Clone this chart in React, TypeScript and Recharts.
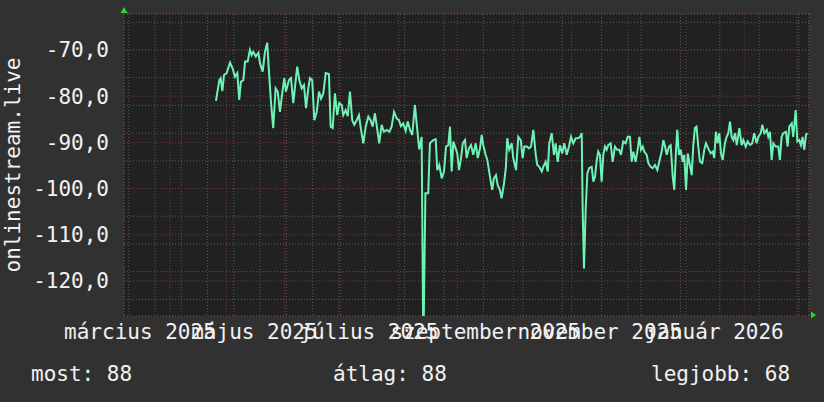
import React from 'react';
import { LineChart, Line, XAxis, YAxis, CartesianGrid, ReferenceDot } from 'recharts';

// days since 2025-04-01 (UTC) and values
const seriesDays = [
  24.5, 26.3, 27.0, 27.9, 28.8, 30.2, 32.0, 33.4, 34.6, 35.9, 36.9, 37.8, 39.1, 40.0, 41.4, 42.6, 43.5, 44.4, 45.7, 47.1,
  48.0, 49.4, 50.6, 51.8, 52.8, 53.8, 55.0, 56.3, 57.4, 58.6, 59.8, 60.9, 61.8, 63.4, 64.5, 65.7, 67.0, 67.8, 68.9, 70.2,
  71.4, 72.5, 73.7, 74.6, 75.8, 76.9, 78.2, 79.4, 80.5, 81.7, 83.0, 84.7, 85.6, 86.7, 87.9, 89.1, 90.2, 91.5, 92.3, 93.6,
  94.7, 95.9, 97.1, 98.2, 99.5, 100.7, 101.8, 103.0, 104.3, 105.7, 106.9, 108.0, 109.2, 110.5, 111.5, 112.8, 114.0, 115.5, 116.9, 118.1,
  119.4, 120.8, 122.0, 123.1, 124.3, 125.6, 126.7, 127.9, 129.1, 130.5, 131.6, 132.8, 134.1, 135.0, 136.1, 137.6, 138.5, 140.3, 141.6, 142.4,
  143.5, 144.8, 146.0, 147.1, 148.3, 149.2, 150.1, 151.0, 152.2, 153.1, 154.0, 155.1, 156.0, 157.2, 158.1, 159.3, 160.4, 161.6, 162.9, 164.0,
  165.2, 166.1, 166.9, 168.2, 169.1, 170.5, 171.7, 172.6, 173.7, 174.6, 175.8, 176.7, 178.0, 179.0, 179.7, 180.8, 182.1, 182.9, 184.4, 185.6,
  186.9, 187.9, 188.8, 190.1, 191.3, 192.4, 193.6, 194.9, 195.7, 196.8, 198.1, 198.9, 200.2, 201.3, 202.1, 203.4, 204.6, 205.5, 206.6, 207.8,
  209.0, 210.1, 211.4, 212.6, 213.7, 214.9, 216.2, 217.6, 218.5, 219.4, 219.9, 220.6, 221.5, 222.4, 223.3, 224.7, 225.6, 226.5, 227.4, 228.2,
  229.1, 230.0, 230.9, 231.8, 232.7, 233.5, 234.8, 235.9, 237.1, 238.3, 239.4, 240.3, 241.5, 242.8, 243.9, 245.1, 246.0, 246.9, 248.1, 249.2,
  250.1, 251.0, 251.9, 252.7, 254.0, 254.9, 256.1, 257.2, 258.4, 259.7, 260.7, 262.0, 262.9, 263.8, 264.7, 265.9, 266.8, 267.9, 268.7, 269.6,
  270.3, 271.2, 272.1, 273.2, 274.0, 275.0, 275.9, 276.7, 278.0, 278.8, 279.7, 280.6, 281.5, 282.4, 283.6, 284.7, 285.6, 286.8, 288.1, 289.2,
  290.0, 290.9, 291.8, 292.7, 293.6, 294.5, 295.7, 296.6, 297.5, 298.4, 299.3, 300.2, 301.1, 302.0, 303.4, 304.6, 305.5, 306.8, 307.8, 309.1,
  310.3, 311.3, 312.6, 313.5, 314.8, 315.6, 316.7, 318.0, 318.8, 319.7, 320.6, 321.5, 322.7, 324.1, 325.0, 325.9, 326.8, 328.2, 329.1, 330.0,
  331.3, 332.1, 333.4, 334.3, 335.3, 336.2, 337.1, 338.0, 338.9, 339.6,
];
const seriesValues = [
  -81.0, -76.5, -76.1, -78.9, -75.4, -75.0, -72.7, -74.0, -75.8, -75.0, -80.8, -76.9, -76.5, -72.5, -72.5, -70.0, -71.1, -70.4, -71.4, -70.6,
  -72.9, -74.7, -70.4, -68.4, -75.0, -81.2, -86.9, -78.3, -79.0, -83.4, -79.4, -76.1, -79.0, -76.5, -76.1, -81.5, -76.5, -73.6, -76.5, -78.3,
  -77.6, -82.6, -78.3, -76.1, -76.5, -85.2, -83.4, -79.0, -80.5, -79.4, -75.0, -75.2, -86.6, -86.9, -79.4, -84.1, -81.5, -81.9, -84.1, -83.0,
  -84.3, -79.0, -85.2, -86.2, -85.2, -84.1, -87.3, -90.2, -86.6, -84.4, -85.2, -86.6, -83.7, -87.3, -90.2, -86.2, -87.7, -87.3, -87.7, -86.6,
  -83.4, -84.8, -85.2, -86.5, -85.9, -87.5, -85.5, -87.3, -88.4, -81.9, -86.6, -91.5, -88.8, -135.0, -101.0, -101.0, -90.2, -89.5, -89.3, -96.0,
  -94.9, -97.8, -96.3, -90.9, -90.6, -86.6, -96.3, -89.8, -91.3, -92.4, -96.0, -93.4, -90.2, -89.5, -93.4, -91.3, -90.6, -92.7, -90.2, -93.4,
  -91.3, -88.4, -90.6, -92.7, -93.8, -97.4, -100.3, -97.8, -97.1, -99.2, -100.3, -102.1, -98.9, -95.3, -89.1, -91.6, -90.2, -93.4, -96.0, -88.8,
  -89.5, -93.4, -90.9, -90.9, -91.3, -90.9, -87.3, -92.7, -94.9, -95.3, -96.3, -95.3, -94.2, -96.3, -90.2, -88.0, -92.7, -90.2, -94.2, -90.6,
  -92.4, -90.2, -92.7, -90.9, -88.8, -90.2, -89.1, -89.1, -88.8, -88.0, -104.6, -117.3, -104.6, -96.7, -95.6, -95.3, -98.5, -97.4, -93.8, -92.0,
  -92.7, -98.5, -92.7, -90.9, -91.6, -90.6, -90.2, -94.2, -90.9, -91.6, -91.6, -92.7, -89.8, -90.2, -88.8, -88.8, -94.2, -92.0, -94.2, -91.6,
  -88.8, -91.6, -90.9, -92.0, -92.7, -94.5, -95.3, -95.6, -94.9, -96.0, -94.2, -92.0, -89.5, -90.9, -92.7, -90.9, -90.6, -97.4, -100.3, -92.0,
  -87.3, -92.7, -91.6, -94.2, -92.7, -100.3, -92.4, -94.2, -97.1, -90.9, -86.9, -86.6, -90.9, -94.2, -94.5, -91.6, -90.2, -91.3, -92.4, -92.0,
  -93.4, -87.7, -90.2, -88.0, -92.4, -93.8, -90.2, -88.8, -88.0, -85.5, -88.8, -89.5, -88.0, -90.6, -86.9, -90.6, -89.5, -90.9, -89.8, -90.6,
  -90.2, -88.0, -90.2, -88.8, -88.0, -86.2, -88.0, -87.3, -88.8, -87.7, -93.8, -90.2, -90.9, -90.9, -93.8, -88.8, -88.0, -87.7, -90.9, -86.6,
  -85.9, -88.8, -83.0, -89.8, -89.5, -90.6, -88.8, -91.6, -88.4, -88.0,
];

const yMajorTicks = [-120, -110, -100, -90, -80, -70];
const xLabelNames = ['március 2025', 'május 2025', 'július 2025', 'szeptember 2025', 'november 2025', 'január 2026'];
const xLabelMonths: [number, number][] = [[2025, 3], [2025, 5], [2025, 7], [2025, 9], [2025, 11], [2026, 1]];
const legendItems = ['most: 88', 'átlag: 88', 'legjobb: 68'];
const yTitle = 'onlinestream.live';

const START = Date.UTC(2025, 3, 1);
const dayOf = (y: number, m: number, d: number) => (Date.UTC(y, m - 1, d) - START) / 86400000;

const X_DOMAIN: [number, number] = [-24.5, 340.5];
const Y_DOMAIN: [number, number] = [-127.6, -62.2];

const data = seriesDays.map((d, i) => ({ d, v: seriesValues[i] }));

// grid ticks
const monthStartTicks: number[] = [];
for (let k = 0; k < 13; k++) {
  const v = dayOf(2025, 4 + k, 1);
  if (v >= X_DOMAIN[0] && v <= X_DOMAIN[1]) monthStartTicks.push(v);
}
const weekTicks: number[] = [];
for (let v = dayOf(2025, 3, 10); v <= X_DOMAIN[1]; v += 7) weekTicks.push(v);
const yMinorTicks: number[] = [];
for (let v = -126; v <= -64; v += 2) yMinorTicks.push(v);

const labelTicks = xLabelMonths.map(([y, m]) => dayOf(y, m, 1) + 15);
const labelMap = new Map<number, string>(labelTicks.map((t, i) => [t, xLabelNames[i]]));

const FONT = 'DejaVu Sans Mono';
const TEXT = '#f2f2f2';
const tickStyle = { fill: TEXT, fontSize: 21, fontFamily: FONT };

const upArrow = (p: any) => (
  <path d={`M${p.cx - 3.5},${p.cy - 1} L${p.cx},${p.cy - 7} L${p.cx + 3.5},${p.cy - 1} Z`} fill="#22dd22" />
);
const rightArrow = (p: any) => (
  <path d={`M${p.cx + 2},${p.cy - 4.5} L${p.cx + 7},${p.cy - 1} L${p.cx + 2},${p.cy + 2.5} Z`} fill="#22dd22" />
);

export default function App() {
  return (
    <div style={{ position: 'absolute', left: 0, top: 0, width: 824, height: 402, background: '#313131', overflow: 'hidden' }}>
      <LineChart width={824} height={402} data={data} margin={{ top: 14, right: 15, left: 0, bottom: 0 }}>
        <XAxis xAxisId="minor" type="number" dataKey="d" domain={X_DOMAIN} allowDataOverflow ticks={weekTicks} hide />
        <XAxis xAxisId="major" type="number" dataKey="d" domain={X_DOMAIN} allowDataOverflow ticks={monthStartTicks} hide />
        <XAxis
          xAxisId="lab"
          type="number"
          dataKey="d"
          domain={X_DOMAIN}
          allowDataOverflow
          ticks={labelTicks}
          interval={0}
          height={86}
          axisLine={false}
          tickLine={false}
          tickSize={0}
          tickMargin={8}
          tick={tickStyle}
          tickFormatter={(v: number) => labelMap.get(v) ?? ''}
        />
        <YAxis yAxisId="minor" type="number" domain={Y_DOMAIN} allowDataOverflow ticks={yMinorTicks} hide />
        <YAxis
          yAxisId="main"
          type="number"
          domain={Y_DOMAIN}
          allowDataOverflow
          ticks={yMajorTicks}
          interval={0}
          width={124}
          axisLine={false}
          tickLine={false}
          tickSize={0}
          tickMargin={15}
          tick={tickStyle}
          tickFormatter={(v: number) => v.toFixed(1).replace('.', ',')}
        />
        <CartesianGrid xAxisId="minor" yAxisId="minor" fill="#212121" stroke="#5c5c5c" strokeDasharray="1 2" />
        <CartesianGrid xAxisId="major" yAxisId="main" stroke="#7a3838" strokeDasharray="1 2" />
        <Line
          xAxisId="lab"
          yAxisId="main"
          type="linear"
          dataKey="v"
          stroke="#6ff2b6"
          strokeWidth={2}
          dot={false}
          activeDot={false}
          isAnimationActive={false}
        />
        <ReferenceDot xAxisId="lab" yAxisId="main" x={X_DOMAIN[0]} y={Y_DOMAIN[1]} r={0} ifOverflow="visible" shape={upArrow} />
        <ReferenceDot xAxisId="lab" yAxisId="main" x={X_DOMAIN[1]} y={Y_DOMAIN[0]} r={0} ifOverflow="visible" shape={rightArrow} />
      </LineChart>
      <svg width={824} height={402} style={{ position: 'absolute', left: 0, top: 0, pointerEvents: 'none' }}>
        <text
          x={19.5}
          y={165}
          transform="rotate(-90 19.5 165)"
          textAnchor="middle"
          fill={TEXT}
          fontSize={21}
          fontFamily={FONT}
        >
          {yTitle}
        </text>
        <text x={31} y={381} fill={TEXT} fontSize={21} fontFamily={FONT}>{legendItems[0]}</text>
        <text x={333} y={381} fill={TEXT} fontSize={21} fontFamily={FONT}>{legendItems[1]}</text>
        <text x={651} y={381} fill={TEXT} fontSize={21} fontFamily={FONT}>{legendItems[2]}</text>
      </svg>
    </div>
  );
}
